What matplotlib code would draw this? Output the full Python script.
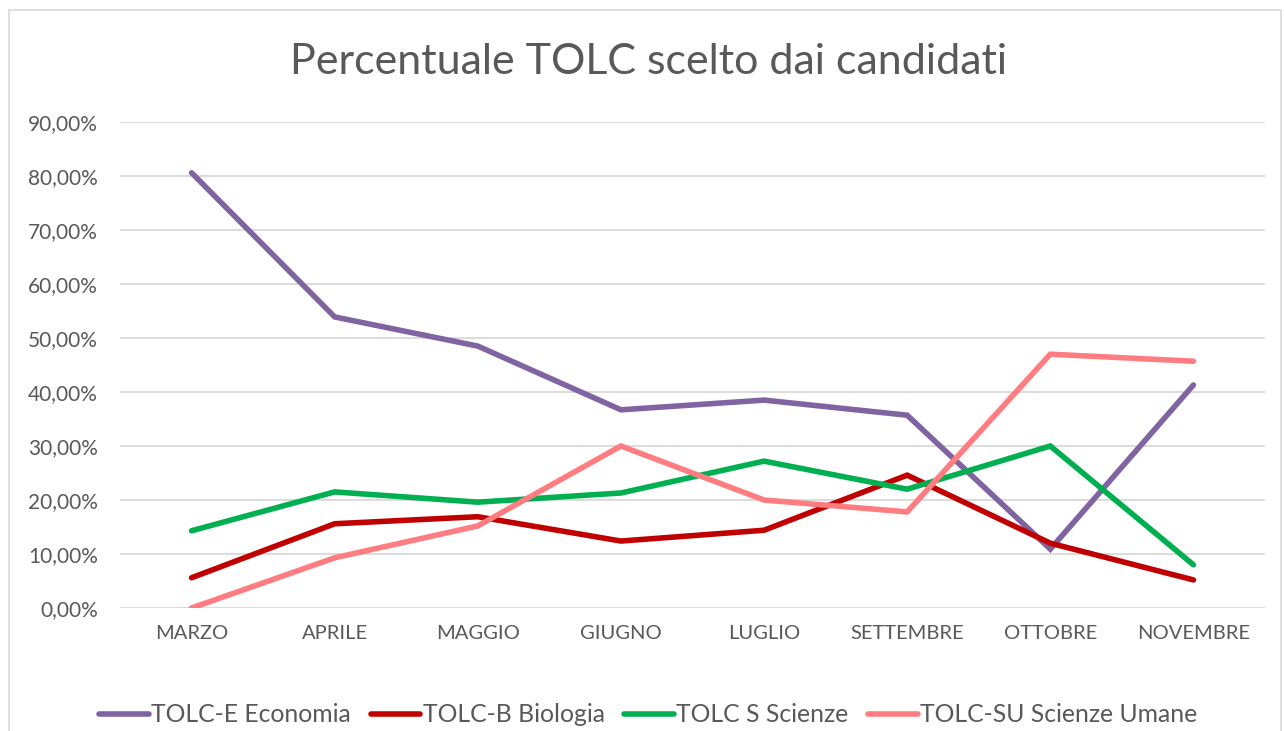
import matplotlib.pyplot as plt
from matplotlib.patches import Rectangle
from matplotlib.ticker import FuncFormatter

plt.rcParams['font.family'] = ['Lato', 'DejaVu Sans']

mesi = ['MARZO', 'APRILE', 'MAGGIO', 'GIUGNO', 'LUGLIO', 'SETTEMBRE', 'OTTOBRE', 'NOVEMBRE']
economia = [80.6, 53.9, 48.5, 36.7, 38.5, 35.7, 10.9, 41.3]
biologia = [5.6, 15.6, 16.9, 12.4, 14.4, 24.6, 12.0, 5.2]
scienze = [14.3, 21.5, 19.6, 21.3, 27.2, 22.0, 30.0, 8.0]
umane = [0.0, 9.3, 15.2, 30.0, 20.0, 17.8, 47.0, 45.7]

serie = [
    ('TOLC-E Economia', economia, '#8064A2'),
    ('TOLC-B Biologia', biologia, '#C00000'),
    ('TOLC S Scienze', scienze, '#00B050'),
    ('TOLC-SU Scienze Umane', umane, '#FF7C80'),
]

fig = plt.figure(figsize=(12.84, 7.31), dpi=100)
ax = fig.add_axes([120 / 1284, 1 - 608 / 731, 1145 / 1284, (608 - 122) / 731])

# chart border
fig.patches.append(Rectangle((9 / 1284, -0.05), 1272 / 1284, 1.05 - 10 / 731,
                             transform=fig.transFigure, fill=False,
                             edgecolor='#D9D9D9', linewidth=1.2))

x = list(range(len(mesi)))
for nome, vals, col in serie:
    ax.plot(x, vals, color=col, linewidth=4, label=nome, solid_capstyle='round',
            solid_joinstyle='miter')

ax.set_xlim(-0.5, len(mesi) - 0.5)
ax.set_ylim(0, 90)
ax.set_yticks(range(0, 91, 10))
ax.yaxis.set_major_formatter(FuncFormatter(lambda v, p: f'{v:.2f}%'.replace('.', ',')))
ax.set_xticks(x)
ax.set_xticklabels(mesi)
ax.grid(axis='y', color='#D9D9D9', linewidth=1.3)
ax.set_axisbelow(True)
for s in ax.spines.values():
    s.set_visible(False)
ax.tick_params(length=0, colors='#595959')
ax.tick_params(axis='x', pad=12, labelsize=14.5)
ax.tick_params(axis='y', pad=16, labelsize=15)

fig.text(0.505, 1 - 62 / 731, 'Percentuale TOLC scelto dai candidati', ha='center', va='center',
         fontsize=31, color='#595959')

leg = fig.legend(loc='center', bbox_to_anchor=(0.505, 1 - 715 / 731), ncol=4, frameon=False,
                 fontsize=17.8, handlelength=2.0, handletextpad=0.1, columnspacing=0.8,
                 labelcolor='#595959')

fig.savefig('out.png', dpi=100)
